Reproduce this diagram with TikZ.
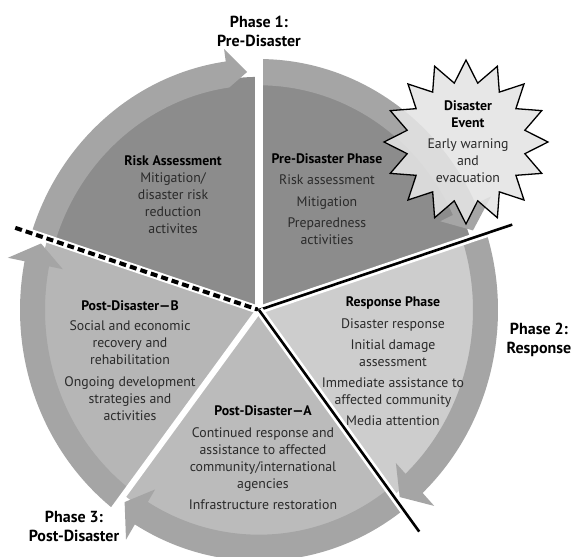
\documentclass[tikz,border=0pt]{standalone}
\usepackage{fontspec}
\setmainfont{PT Sans}
\begin{document}
\definecolor{secDark}{HTML}{8C8C8C}
\definecolor{secResp}{HTML}{CDCDCD}
\definecolor{secA}{HTML}{BBBBBB}
\definecolor{secB}{HTML}{B6B6B6}
\definecolor{bandGray}{HTML}{A5A5A5}
\definecolor{bodyText}{HTML}{2A2A2A}
\definecolor{starFill}{HTML}{E4E4E4}
% radii of the wheel (in pt, before the vertical stretch)
\def\rSec{222}
\def\rIn{214}
\def\rOut{239}
\def\rBarbIn{200}
\def\rBarbOut{256}
\def\rTip{227}
% coloured wedge: start angle, end angle, colour
\newcommand\wedgefill[3]{\fill[#3] (0,0) -- (#1:\rSec) arc[start angle=#1, end angle=#2, radius=\rSec] -- cycle;}
% curved arrow on the rim: start angle, head base angle, tip angle
\newcommand\ringarrow[3]{\fill[bandGray] (#1:\rOut) arc[start angle=#1, end angle=#2, radius=\rOut]
  -- (#2:\rBarbOut) -- (#3:\rTip) -- (#2:\rBarbIn) -- (#2:\rIn)
  arc[start angle=#2, end angle=#1, radius=\rIn] -- cycle;}
\begin{tikzpicture}[x=1pt, y=1pt,
  body/.style={align=center, text=bodyText, font=\fontsize{13.8}{17}\selectfont, inner sep=0pt},
  phase/.style={align=center, text=black, font=\fontsize{16}{19}\selectfont\bfseries, inner sep=0pt},
  divider/.style={white, line width=7pt},
  blackdiv/.style={black, line width=2.6pt},
  starshape/.style={fill=starFill, fill opacity=0.88, draw=black, line width=1.3pt, line join=miter}]
\useasboundingbox (0,0) rectangle (574,557);
\fill[white] (0,0) rectangle (574,557);

\begin{scope}[shift={(259,247)}, yscale=1.05]
  % sectors
  \wedgefill{162.2}{90}{secDark}
  \wedgefill{90}{17.8}{secDark}
  \wedgefill{17.8}{-52.8}{secResp}
  \wedgefill{-52.8}{-127.5}{secA}
  \wedgefill{232.5}{162.2}{secB}
  % rim arrows
  \fill[bandGray] (162.2:\rOut) arc[start angle=162.2, end angle=98, radius=\rOut]
    -- (98:251) -- (93:\rTip) -- (98:\rIn) arc[start angle=98, end angle=162.2, radius=\rIn] -- cycle;
  \ringarrow{90}{25}{19.5}
  \ringarrow{17.8}{-46.8}{-51.7}
  \ringarrow{-52.8}{-121.3}{-126.3}
  \ringarrow{232.5}{168.8}{163.8}
  % separators
  \draw[divider, line width=8pt] (0,0) -- (90:265);
  \draw[divider, line width=6pt] (0,0) -- (232.5:240);
  \draw[divider, line width=8pt] (162.2:257) -- (0,0);
  \draw[black, line width=4pt, dash pattern=on 7pt off 4pt] (162.2:256) -- (0,0);
  \draw[divider, line width=8pt] (0,0) -- (17.8:267);
  \draw[blackdiv] (0,0) -- (17.8:266);
  \draw[divider, line width=8pt] (0,0) -- (-52.8:266);
  \draw[blackdiv] (0,0) -- (-52.8:265);
\end{scope}

% sector texts
\node[body] (riskTxt) at (173,362.5) {\textbf{\color{black}Risk Assessment}\\Mitigation/\\disaster risk\\reduction\\activites};
\node[body] (preTxt) at (327,357.5) {\textbf{\color{black}Pre-Disaster Phase}\\[4pt]Risk assessment\\[5pt]Mitigation\\[4pt]Preparedness\\activities};
\node[body] (respTxt) at (393,196) {\textbf{\color{black}Response Phase}\\[5pt]Disaster response\\[4pt]Initial damage\\assessment\\[4pt]Immediate assistance to\\affected community\\[4pt]Media attention};
\node[body] (postATxt) at (263,99.5) {\textbf{\color{black}Post-Disaster—A}\\[5pt]Continued response and\\assistance to affected\\community/international\\agencies\\[4pt]Infrastructure restoration};
\node[body] (postBTxt) at (130,196) {\textbf{\color{black}Post-Disaster—B}\\[3pt]Social and economic\\recovery and\\rehabilitation\\[5pt]Ongoing development\\strategies and\\activities};

% phase labels
\node[phase] (phaseOne) at (259,525.5) {Phase 1:\\Pre-Disaster};
\node[phase] (phaseTwo) at (539,217) {Phase 2:\\Response};
\node[phase] (phaseThree) at (74,31) {Phase 3:\\Post-Disaster};

% disaster event burst
\begin{scope}[shift={(466,415)}]
  \draw[starshape] (90:82) \foreach \k in {1,...,31} { -- ({90+\k*11.25}:{ifthenelse(mod(\k,2)==0,82,60)}) } -- cycle;
\end{scope}
\node[body] (eventTxt) at (468,415.5) {\textbf{\color{black}Disaster}\\\textbf{\color{black}Event}\\[4pt]Early warning\\and\\evacuation};
\end{tikzpicture}
\end{document}
